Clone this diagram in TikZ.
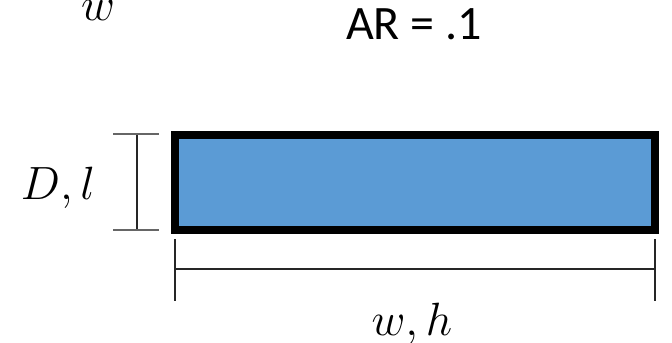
\RequirePackage{fix-cm}
\documentclass[tikz,border=0pt]{standalone}
\usepackage{fontspec}
\setmainfont{Carlito}
\definecolor{barblue}{HTML}{5B9BD5}
\begin{document}
\begin{tikzpicture}[
    x=0.75pt, y=-0.75pt,
    bar/.style={draw=black, line width=6pt, fill=barblue, outer sep=0pt,
        minimum width=360pt, minimum height=71.25pt},
    dimline/.style={draw=black!85, line width=0.8pt},
    dimtick/.style={draw=black!60, line width=1.5pt},
    mathlabel/.style={font=\fontsize{35}{40}\selectfont, anchor=base, inner sep=0pt},
    titlelabel/.style={font=\fontsize{36}{40}\selectfont, anchor=base, inner sep=0pt}
]
    \useasboundingbox (0,0) rectangle (672,343);
    \node[bar] (beam) at (415,182.5) {};
    % depth dimension
    \coordinate (dtop) at (137,134);
    \coordinate (dbot) at (137,230);
    \draw[dimline] (dtop) -- (dbot);
    \draw[dimtick] ([xshift=-18pt]dtop) -- ([xshift=16.5pt]dtop);
    \draw[dimtick] ([xshift=-18pt]dbot) -- ([xshift=16.5pt]dbot);
    % width dimension
    \coordinate (wleft) at (beam.south west |- 0,269);
    \coordinate (wright) at (beam.south east |- 0,269);
    \draw[dimline] (wleft) -- (wright);
    \draw[dimline] ([yshift=22.5pt]wleft) -- ([yshift=-24pt]wleft);
    \draw[dimline] ([yshift=22.5pt]wright) -- ([yshift=-24pt]wright);
    \node[mathlabel] (dlabel) at (58,199) {$D,l$};
    \node[mathlabel] (wlabel) at (412,335) {$w,h$};
    \node[mathlabel] (wcut) at (98,20) {$w$};
    \node[titlelabel] (ratio) at (414,39) {AR = .1};
\end{tikzpicture}
\end{document}
